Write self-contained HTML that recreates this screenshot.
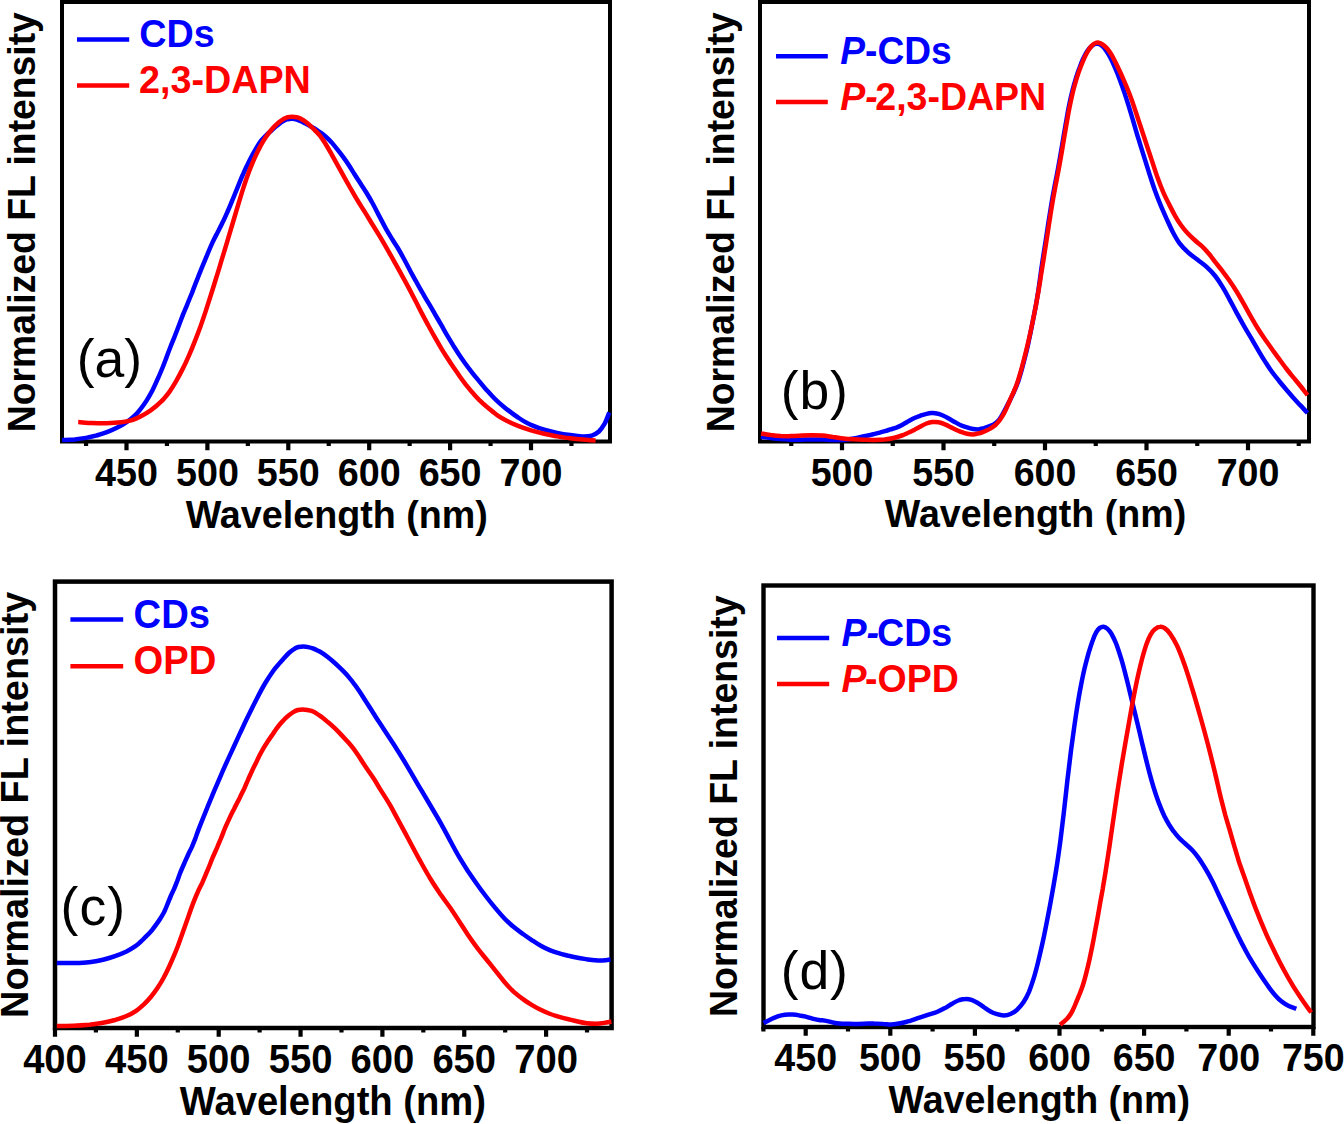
<!DOCTYPE html>
<html><head><meta charset="utf-8"><style>
html,body{margin:0;padding:0;background:#fff;}
body{width:1344px;height:1124px;overflow:hidden;}
svg{display:block;}
text{font-family:"Liberation Sans",sans-serif;}
.b{font-weight:bold;font-size:37.6px;}
.r{font-weight:normal;font-size:53.5px;}
.i{font-style:italic;}
</style></head><body>
<svg width="1344" height="1124" viewBox="0 0 1344 1124">
<rect x="62" y="2" width="548" height="439.5" fill="none" stroke="#000" stroke-width="4"/>
<path d="M86.05,441.50V445.90 M126.50,441.50V450.30 M166.95,441.50V445.90 M207.40,441.50V450.30 M247.85,441.50V445.90 M288.30,441.50V450.30 M328.75,441.50V445.90 M369.20,441.50V450.30 M409.65,441.50V445.90 M450.10,441.50V450.30 M490.55,441.50V445.90 M531.00,441.50V450.30 M571.45,441.50V445.90" stroke="#000" stroke-width="4.2" fill="none"/>
<text transform="translate(126.50,485.6) scale(1,1.04)" text-anchor="middle" class="b" style="font-size:37.7px">450</text>
<text transform="translate(207.40,485.6) scale(1,1.04)" text-anchor="middle" class="b" style="font-size:37.7px">500</text>
<text transform="translate(288.30,485.6) scale(1,1.04)" text-anchor="middle" class="b" style="font-size:37.7px">550</text>
<text transform="translate(369.20,485.6) scale(1,1.04)" text-anchor="middle" class="b" style="font-size:37.7px">600</text>
<text transform="translate(450.10,485.6) scale(1,1.04)" text-anchor="middle" class="b" style="font-size:37.7px">650</text>
<text transform="translate(531.00,485.6) scale(1,1.04)" text-anchor="middle" class="b" style="font-size:37.7px">700</text>
<text transform="translate(336.80,527.6) scale(1,1.04)" text-anchor="middle" class="b" style="font-size:37.7px">Wavelength (nm)</text>
<text transform="translate(35.2,222.15) rotate(-90) scale(1,1.04)" text-anchor="middle" class="b" style="font-size:37.3px">Normalized FL intensity</text>
<path d="M77,39.5H129.2" stroke="#0000ff" stroke-width="4.5" fill="none"/>
<text transform="translate(139.2,47.2) scale(1,1.04)" class="b" fill="#0000ff" style="font-size:37.7px">CDs</text>
<path d="M77,85.6H129.2" stroke="#ff0000" stroke-width="4.5" fill="none"/>
<text transform="translate(139.0,93.3) scale(1,1.04)" class="b" fill="#ff0000" style="font-size:37.7px">2,3-DAPN</text>
<text x="76.8" y="376.7" class="r">(a)</text>
<path d="M62.1,440.0 C64.2,439.9 70.8,439.7 74.8,439.4 C78.8,439.0 82.4,438.5 86.0,437.9 C89.6,437.3 93.0,436.4 96.5,435.5 C100.0,434.5 103.4,433.4 106.9,432.1 C110.4,430.8 114.0,429.2 117.3,427.5 C120.6,425.9 124.1,423.9 126.9,421.9 C129.8,420.0 132.2,418.0 134.4,415.9 C136.7,413.8 138.4,411.8 140.3,409.3 C142.3,406.8 144.4,404.1 146.4,400.9 C148.4,397.7 150.6,393.9 152.5,390.2 C154.4,386.5 156.2,382.4 157.8,378.7 C159.5,375.0 161.0,371.5 162.4,368.0 C163.8,364.5 165.1,361.0 166.4,357.6 C167.7,354.2 168.9,350.8 170.2,347.5 C171.5,344.2 172.8,341.1 174.2,337.6 C175.5,334.2 177.0,330.4 178.4,326.7 C179.8,323.0 181.3,319.1 182.7,315.4 C184.1,311.8 185.6,308.5 187.1,304.8 C188.6,301.0 190.2,297.2 191.9,293.1 C193.5,288.9 195.3,284.1 197.1,279.7 C198.8,275.2 200.7,270.6 202.4,266.3 C204.2,262.1 205.9,258.0 207.5,254.1 C209.1,250.2 210.7,246.4 212.3,242.9 C213.9,239.3 215.7,236.0 217.4,232.7 C219.1,229.4 220.8,226.3 222.4,222.8 C224.1,219.4 225.7,215.7 227.4,212.0 C229.0,208.3 230.7,204.3 232.1,200.8 C233.6,197.2 235.0,194.0 236.2,190.8 C237.5,187.7 238.6,184.8 239.8,181.9 C241.0,178.9 242.2,176.0 243.6,173.0 C244.9,170.0 246.3,167.0 247.8,164.1 C249.2,161.2 250.7,158.2 252.2,155.4 C253.7,152.6 255.2,149.9 256.7,147.4 C258.2,144.9 259.6,142.6 261.1,140.7 C262.6,138.8 264.1,137.3 265.6,135.8 C267.1,134.3 268.5,133.1 270.0,131.8 C271.5,130.5 273.0,129.1 274.5,127.8 C276.0,126.5 277.4,125.2 278.9,124.1 C280.4,123.0 281.9,121.9 283.4,121.1 C284.9,120.3 286.3,119.6 287.8,119.2 C289.3,118.9 290.8,118.7 292.3,118.8 C293.8,118.9 295.2,119.1 296.7,119.6 C298.2,120.0 299.7,120.7 301.2,121.3 C302.7,122.0 304.1,122.8 305.6,123.5 C307.1,124.3 308.6,125.1 310.1,125.9 C311.6,126.7 313.1,127.6 314.8,128.6 C316.4,129.7 318.2,130.8 320.1,132.2 C321.9,133.6 323.9,135.1 325.8,136.8 C327.7,138.5 329.7,140.3 331.6,142.4 C333.5,144.6 335.4,147.0 337.3,149.4 C339.2,151.8 341.2,154.3 343.1,156.9 C345.0,159.5 347.0,162.3 348.9,165.3 C350.8,168.2 352.8,171.5 354.7,174.5 C356.6,177.6 358.6,180.5 360.5,183.5 C362.4,186.5 364.4,189.3 366.3,192.5 C368.2,195.6 370.0,198.6 372.0,202.3 C374.1,206.0 376.3,210.4 378.6,214.9 C381.0,219.3 383.7,224.7 386.0,228.9 C388.4,233.1 390.6,236.6 392.7,240.0 C394.7,243.3 396.5,245.9 398.4,249.0 C400.3,252.2 402.1,255.5 404.0,259.0 C405.9,262.5 407.9,266.4 409.9,270.2 C412.0,274.0 414.1,278.0 416.2,281.7 C418.3,285.4 420.3,289.0 422.4,292.6 C424.5,296.2 426.5,299.7 428.6,303.2 C430.7,306.7 432.7,310.2 434.8,313.8 C436.9,317.4 439.0,321.1 441.1,324.7 C443.2,328.3 445.2,332.1 447.3,335.6 C449.4,339.1 451.5,342.6 453.5,345.9 C455.6,349.2 457.5,352.2 459.5,355.2 C461.5,358.3 463.5,361.0 465.6,364.0 C467.7,366.9 470.1,370.0 472.3,372.8 C474.6,375.7 476.9,378.5 479.1,381.2 C481.3,383.9 483.4,386.4 485.6,388.9 C487.8,391.3 489.9,393.8 492.1,396.0 C494.3,398.3 496.4,400.4 498.6,402.4 C500.8,404.4 502.9,406.1 505.1,407.9 C507.3,409.7 509.4,411.3 511.6,412.9 C513.8,414.6 515.9,416.1 518.1,417.5 C520.3,419.0 522.2,420.2 524.6,421.6 C527.0,423.0 529.5,424.3 532.8,425.6 C536.0,427.0 540.1,428.5 544.2,429.7 C548.2,430.9 552.9,432.0 557.2,432.9 C561.5,433.9 566.0,434.6 570.2,435.1 C574.4,435.7 578.6,436.3 582.2,436.4 C585.8,436.5 588.9,436.4 591.7,435.6 C594.4,434.8 596.7,433.5 598.9,431.5 C601.1,429.4 603.0,426.5 604.8,423.4 C606.5,420.2 608.5,414.2 609.3,412.4" stroke="#0000ff" stroke-width="4.5" fill="none" stroke-linejoin="round" stroke-linecap="butt"/>
<path d="M78.2,422.1 C80.5,422.2 87.1,422.8 91.9,423.0 C96.7,423.2 102.0,423.3 106.9,423.2 C111.8,423.1 117.0,422.8 121.2,422.3 C125.4,421.8 128.8,421.1 132.1,420.1 C135.4,419.1 137.8,418.0 140.9,416.3 C144.0,414.7 147.4,412.7 150.7,410.4 C154.0,408.0 157.7,405.0 160.8,401.9 C164.0,398.9 166.8,395.3 169.4,391.8 C171.9,388.3 174.1,384.7 176.3,380.9 C178.5,377.0 180.6,373.0 182.7,368.9 C184.8,364.7 186.9,360.2 188.8,355.8 C190.8,351.4 192.6,347.1 194.4,342.4 C196.3,337.7 198.2,332.8 200.1,327.6 C201.9,322.3 204.0,316.4 205.8,310.9 C207.6,305.3 209.4,299.7 211.1,294.2 C212.9,288.6 214.6,283.2 216.3,277.5 C218.1,271.9 219.8,266.1 221.6,260.2 C223.4,254.3 225.2,248.3 227.0,242.3 C228.8,236.4 230.5,230.4 232.3,224.5 C234.1,218.5 235.9,212.3 237.7,206.4 C239.5,200.5 241.3,194.3 243.0,189.1 C244.7,183.8 246.2,179.2 247.8,174.9 C249.3,170.7 250.7,167.2 252.2,163.6 C253.7,160.1 255.2,156.7 256.7,153.6 C258.2,150.5 259.6,147.6 261.1,144.9 C262.6,142.3 264.1,139.8 265.6,137.6 C267.1,135.3 268.5,133.3 270.0,131.5 C271.5,129.6 273.0,127.9 274.5,126.4 C276.0,124.9 277.4,123.5 278.9,122.3 C280.4,121.1 281.9,120.0 283.4,119.1 C284.9,118.3 286.3,117.7 287.8,117.2 C289.3,116.8 290.8,116.7 292.3,116.7 C293.8,116.7 295.2,116.9 296.7,117.2 C298.2,117.6 299.7,118.2 301.2,118.9 C302.7,119.7 304.1,120.6 305.6,121.7 C307.1,122.8 308.6,124.2 310.1,125.6 C311.6,127.0 313.1,128.4 314.8,130.1 C316.4,131.8 318.2,133.5 320.1,135.8 C321.9,138.2 323.9,141.1 325.8,144.2 C327.7,147.3 329.7,150.9 331.6,154.3 C333.5,157.7 335.4,161.2 337.3,164.7 C339.2,168.2 341.2,171.6 343.1,175.1 C345.0,178.6 347.0,182.1 348.9,185.5 C350.8,188.9 352.8,192.3 354.7,195.6 C356.6,198.9 358.6,202.0 360.5,205.2 C362.4,208.3 364.4,211.3 366.3,214.4 C368.2,217.5 370.0,220.5 372.0,223.7 C374.0,226.9 376.0,230.1 378.1,233.6 C380.3,237.1 382.6,241.0 384.8,244.8 C386.9,248.5 389.1,252.4 391.2,256.2 C393.3,260.0 395.4,263.7 397.5,267.4 C399.6,271.1 401.6,274.8 403.7,278.6 C405.8,282.4 407.8,286.2 409.9,290.1 C412.0,294.1 414.1,298.2 416.2,302.3 C418.3,306.3 420.3,310.5 422.4,314.4 C424.5,318.4 426.5,322.2 428.6,326.0 C430.7,329.8 432.7,333.5 434.8,337.2 C436.9,340.9 439.0,344.6 441.1,348.1 C443.2,351.6 445.4,355.0 447.5,358.3 C449.6,361.6 451.7,364.7 453.8,367.7 C455.9,370.7 457.8,373.5 459.8,376.4 C461.8,379.2 463.9,382.0 466.0,384.8 C468.2,387.5 470.4,390.3 472.6,392.8 C474.8,395.2 476.9,397.6 479.1,399.8 C481.3,401.9 483.4,403.9 485.6,405.8 C487.8,407.6 489.9,409.4 492.1,411.1 C494.3,412.8 496.2,414.4 498.6,416.1 C501.0,417.7 503.5,419.1 506.7,420.8 C510.0,422.4 514.0,424.2 518.1,425.8 C522.2,427.4 526.8,429.0 531.1,430.4 C535.5,431.7 539.8,432.8 544.2,433.8 C548.5,434.8 552.9,435.6 557.2,436.4 C561.5,437.1 565.9,437.8 570.2,438.3 C574.5,438.9 578.8,439.3 583.1,439.6 C587.3,440.0 593.5,440.3 595.6,440.4" stroke="#ff0000" stroke-width="4.5" fill="none" stroke-linejoin="round" stroke-linecap="butt"/>
<rect x="760" y="2" width="549" height="439.5" fill="none" stroke="#000" stroke-width="4"/>
<path d="M791.25,441.50V445.90 M842.00,441.50V450.30 M892.75,441.50V445.90 M943.50,441.50V450.30 M994.25,441.50V445.90 M1045.00,441.50V450.30 M1095.75,441.50V445.90 M1146.50,441.50V450.30 M1197.25,441.50V445.90 M1248.00,441.50V450.30 M1298.75,441.50V445.90" stroke="#000" stroke-width="4.2" fill="none"/>
<text transform="translate(842.00,485.8) scale(1,1.04)" text-anchor="middle" class="b" style="font-size:37.6px">500</text>
<text transform="translate(943.50,485.8) scale(1,1.04)" text-anchor="middle" class="b" style="font-size:37.6px">550</text>
<text transform="translate(1045.00,485.8) scale(1,1.04)" text-anchor="middle" class="b" style="font-size:37.6px">600</text>
<text transform="translate(1146.50,485.8) scale(1,1.04)" text-anchor="middle" class="b" style="font-size:37.6px">650</text>
<text transform="translate(1248.00,485.8) scale(1,1.04)" text-anchor="middle" class="b" style="font-size:37.6px">700</text>
<text transform="translate(1035.50,527.4) scale(1,1.04)" text-anchor="middle" class="b" style="font-size:37.6px">Wavelength (nm)</text>
<text transform="translate(733.9,222.15) rotate(-90) scale(1,1.04)" text-anchor="middle" class="b" style="font-size:37.3px">Normalized FL intensity</text>
<path d="M776,56.3H827.8" stroke="#0000ff" stroke-width="4.5" fill="none"/>
<text transform="translate(840.3,63.8) scale(1,1.04)" class="b" fill="#0000ff" style="font-size:37.15px"><tspan class="i">P</tspan>-CDs</text>
<path d="M776,101.9H827.8" stroke="#ff0000" stroke-width="4.5" fill="none"/>
<text transform="translate(840.3,109.8) scale(1,1.04)" class="b" fill="#ff0000" style="font-size:37.5px"><tspan class="i">P-</tspan><tspan dx="-2.5">2,3-DAPN</tspan></text>
<text x="780.7" y="408.6" class="r" style="letter-spacing:0.9px">(b)</text>
<path d="M761.0,436.7 C762.6,436.9 767.3,437.7 770.7,438.1 C774.0,438.5 777.4,438.9 780.8,439.1 C784.2,439.4 787.8,439.6 791.2,439.7 C794.7,439.8 798.2,439.7 801.7,439.7 C805.2,439.6 808.6,439.4 812.1,439.4 C815.6,439.4 819.0,439.4 822.5,439.6 C826.0,439.7 829.4,440.0 832.9,440.1 C836.4,440.1 839.8,440.2 843.3,439.9 C846.8,439.7 850.3,439.1 853.8,438.5 C857.2,437.9 860.9,437.0 864.2,436.3 C867.4,435.6 870.7,434.8 873.3,434.2 C875.9,433.6 877.8,433.2 879.8,432.6 C881.8,432.1 883.2,431.6 885.0,431.1 C886.8,430.6 888.5,430.0 890.4,429.4 C892.3,428.8 894.3,428.3 896.3,427.6 C898.3,426.8 900.4,425.8 902.5,424.7 C904.6,423.6 906.7,422.2 908.8,421.0 C910.8,419.9 913.0,418.7 915.0,417.8 C917.0,416.8 919.1,416.1 921.0,415.4 C922.9,414.8 924.7,414.3 926.5,413.9 C928.3,413.5 930.0,413.2 931.7,413.1 C933.4,413.0 935.1,413.1 936.9,413.5 C938.7,413.8 940.4,414.4 942.3,415.2 C944.3,416.0 946.3,417.0 948.3,418.2 C950.4,419.3 952.5,420.8 954.6,421.9 C956.7,423.1 958.7,424.3 960.8,425.2 C962.9,426.1 965.0,426.8 967.1,427.4 C969.1,428.1 971.1,428.7 973.0,429.0 C975.0,429.3 976.7,429.5 978.5,429.4 C980.3,429.2 982.1,428.6 984.0,428.1 C985.9,427.5 987.9,426.8 989.7,426.1 C991.4,425.4 993.1,424.9 994.6,423.9 C996.0,423.0 997.2,421.9 998.4,420.6 C999.5,419.3 1000.5,417.7 1001.5,416.1 C1002.5,414.5 1003.4,412.8 1004.3,411.1 C1005.2,409.4 1006.1,407.6 1007.0,405.9 C1007.9,404.2 1008.8,402.5 1009.7,400.8 C1010.5,399.2 1011.3,397.6 1012.1,395.9 C1012.9,394.2 1013.7,392.5 1014.4,390.8 C1015.2,389.1 1015.9,387.6 1016.6,385.8 C1017.3,383.9 1017.9,382.3 1018.8,379.7 C1019.6,377.0 1020.6,373.6 1021.7,369.8 C1022.7,366.1 1024.0,361.5 1025.0,357.3 C1026.1,353.1 1027.1,348.8 1028.0,344.7 C1028.9,340.6 1029.7,336.6 1030.6,332.4 C1031.4,328.2 1032.2,324.0 1033.1,319.6 C1034.0,315.2 1034.9,310.7 1035.8,306.0 C1036.6,301.3 1037.4,296.6 1038.2,291.5 C1039.0,286.3 1039.7,280.9 1040.5,275.3 C1041.2,269.7 1042.1,263.7 1043.0,257.8 C1043.9,251.9 1044.9,245.9 1045.8,240.0 C1046.7,234.1 1047.6,228.1 1048.5,222.2 C1049.4,216.4 1050.4,210.3 1051.3,204.7 C1052.2,199.2 1053.1,194.0 1054.1,189.0 C1055.0,184.0 1055.9,179.7 1056.9,174.6 C1057.9,169.4 1058.9,164.0 1059.9,158.2 C1060.9,152.4 1062.0,145.9 1063.0,139.8 C1064.1,133.6 1065.1,127.2 1066.2,121.3 C1067.2,115.5 1068.2,109.7 1069.3,104.5 C1070.4,99.3 1071.4,94.7 1072.6,90.2 C1073.7,85.7 1074.9,81.6 1076.1,77.7 C1077.3,73.8 1078.6,70.1 1079.9,66.8 C1081.1,63.5 1082.3,60.5 1083.6,57.8 C1085.0,55.1 1086.3,52.5 1087.8,50.4 C1089.4,48.3 1091.2,46.3 1092.8,45.2 C1094.4,44.1 1096.0,43.6 1097.5,43.6 C1098.9,43.7 1100.2,44.4 1101.6,45.5 C1103.0,46.6 1104.4,48.1 1105.8,50.2 C1107.3,52.2 1108.9,55.0 1110.5,58.0 C1112.1,61.0 1113.7,64.7 1115.3,68.4 C1116.9,72.1 1118.5,76.1 1120.1,80.4 C1121.7,84.7 1123.3,89.3 1124.9,94.1 C1126.5,98.9 1128.1,104.2 1129.7,109.3 C1131.3,114.4 1132.8,119.8 1134.3,124.9 C1135.8,130.0 1137.1,134.7 1138.8,139.9 C1140.4,145.2 1142.1,150.7 1144.0,156.6 C1145.8,162.5 1148.0,169.3 1149.8,175.2 C1151.7,181.0 1153.5,186.6 1155.3,191.6 C1157.1,196.6 1158.7,200.6 1160.6,205.1 C1162.5,209.6 1164.5,214.1 1166.5,218.6 C1168.6,223.1 1170.7,228.0 1172.9,232.2 C1175.1,236.3 1177.1,240.0 1179.6,243.4 C1182.1,246.7 1184.9,249.5 1187.8,252.2 C1190.8,255.0 1194.4,257.3 1197.6,259.8 C1200.8,262.4 1204.2,264.7 1207.1,267.4 C1210.1,270.1 1212.7,272.9 1215.2,276.0 C1217.7,279.2 1219.9,282.5 1222.2,286.3 C1224.6,290.1 1226.9,294.4 1229.2,298.8 C1231.6,303.1 1234.0,307.9 1236.4,312.3 C1238.8,316.7 1241.1,321.0 1243.5,325.1 C1245.9,329.3 1248.2,333.2 1250.6,337.2 C1253.0,341.3 1255.3,345.4 1257.7,349.4 C1260.1,353.3 1262.4,357.4 1264.8,361.1 C1267.2,364.8 1269.5,368.5 1271.9,371.8 C1274.3,375.1 1276.7,378.0 1279.1,381.0 C1281.5,384.0 1283.8,386.7 1286.2,389.5 C1288.6,392.3 1290.9,395.1 1293.3,397.7 C1295.7,400.4 1298.0,402.8 1300.4,405.4 C1302.8,407.9 1306.3,411.7 1307.5,413.0" stroke="#0000ff" stroke-width="4.5" fill="none" stroke-linejoin="round" stroke-linecap="butt"/>
<path d="M761.0,433.5 C762.6,433.7 767.3,434.5 770.7,435.0 C774.0,435.4 777.4,435.8 780.8,436.0 C784.2,436.1 787.8,436.2 791.2,436.1 C794.7,436.1 798.2,435.8 801.7,435.6 C805.2,435.4 808.6,435.2 812.1,435.2 C815.6,435.2 819.0,435.3 822.5,435.6 C826.0,435.9 829.4,436.6 832.9,437.1 C836.4,437.5 839.8,438.1 843.3,438.5 C846.8,438.9 850.3,439.1 853.8,439.3 C857.2,439.5 860.7,439.6 864.2,439.7 C867.7,439.8 871.2,440.0 874.6,439.9 C878.0,439.9 881.3,439.9 884.5,439.6 C887.6,439.2 890.6,438.7 893.5,438.0 C896.4,437.3 899.2,436.4 901.8,435.5 C904.3,434.6 906.5,433.5 908.8,432.5 C911.0,431.5 913.0,430.4 915.0,429.4 C917.0,428.3 919.1,427.2 921.0,426.2 C922.9,425.3 924.6,424.2 926.5,423.5 C928.4,422.8 930.2,422.2 932.2,422.0 C934.3,421.8 936.5,421.8 938.7,422.3 C940.9,422.7 943.1,423.6 945.5,424.6 C947.8,425.6 950.3,427.0 952.8,428.2 C955.2,429.4 957.9,430.7 960.3,431.6 C962.7,432.5 964.9,433.4 967.1,433.8 C969.2,434.3 971.2,434.5 973.3,434.5 C975.4,434.4 977.5,433.8 979.6,433.2 C981.6,432.7 983.7,431.8 985.5,431.0 C987.4,430.2 989.1,429.3 990.7,428.4 C992.3,427.4 993.8,426.4 995.1,425.3 C996.4,424.1 997.6,422.8 998.8,421.4 C999.9,420.0 1000.9,418.5 1001.9,416.9 C1002.9,415.3 1003.8,413.6 1004.7,411.9 C1005.6,410.2 1006.4,408.3 1007.2,406.5 C1008.0,404.7 1008.8,402.8 1009.6,401.0 C1010.3,399.3 1011.0,397.6 1011.8,395.9 C1012.6,394.2 1013.4,392.5 1014.1,390.8 C1014.9,389.1 1015.6,387.6 1016.2,385.8 C1016.9,383.9 1017.5,382.3 1018.3,379.7 C1019.1,377.0 1020.1,373.6 1021.2,369.8 C1022.2,366.1 1023.5,361.5 1024.5,357.3 C1025.6,353.1 1026.6,348.8 1027.6,344.7 C1028.6,340.6 1029.5,336.6 1030.4,332.4 C1031.3,328.2 1032.2,324.0 1033.1,319.6 C1034.0,315.2 1034.9,310.7 1035.8,306.0 C1036.7,301.3 1037.5,296.6 1038.4,291.5 C1039.3,286.3 1040.2,280.9 1041.0,275.3 C1041.9,269.7 1042.9,263.7 1043.8,257.8 C1044.7,251.9 1045.7,245.9 1046.6,240.0 C1047.5,234.1 1048.4,228.1 1049.3,222.2 C1050.2,216.4 1051.2,210.3 1052.1,204.7 C1053.0,199.2 1053.9,194.0 1054.9,189.0 C1055.8,184.0 1056.7,179.7 1057.7,174.6 C1058.7,169.4 1059.7,164.0 1060.7,158.2 C1061.7,152.4 1062.8,145.9 1063.8,139.8 C1064.9,133.6 1065.9,127.2 1067.0,121.3 C1068.0,115.5 1069.0,109.7 1070.1,104.5 C1071.2,99.3 1072.2,94.7 1073.3,90.2 C1074.5,85.7 1075.7,81.6 1076.9,77.7 C1078.1,73.8 1079.4,70.1 1080.7,66.8 C1081.9,63.5 1083.2,60.5 1084.4,57.8 C1085.7,55.1 1086.9,52.7 1088.2,50.6 C1089.4,48.6 1090.7,46.9 1091.9,45.6 C1093.1,44.4 1094.3,43.5 1095.5,43.0 C1096.6,42.5 1097.7,42.4 1098.9,42.7 C1100.1,42.9 1101.4,43.6 1102.8,44.6 C1104.1,45.5 1105.7,46.8 1107.1,48.4 C1108.5,50.0 1109.9,52.1 1111.3,54.4 C1112.7,56.7 1114.0,59.5 1115.5,62.4 C1117.0,65.3 1118.5,68.6 1120.1,72.0 C1121.7,75.4 1123.3,79.2 1124.9,82.9 C1126.5,86.6 1128.1,90.3 1129.6,94.3 C1131.1,98.2 1132.5,102.0 1134.0,106.6 C1135.6,111.2 1137.1,116.1 1139.0,121.8 C1140.9,127.4 1143.1,134.1 1145.2,140.5 C1147.3,147.0 1149.7,154.1 1151.8,160.4 C1153.9,166.6 1155.8,172.8 1157.7,178.1 C1159.6,183.4 1161.3,187.8 1163.2,192.1 C1165.0,196.3 1166.9,200.0 1168.9,203.9 C1170.8,207.8 1172.8,211.8 1174.8,215.3 C1176.8,218.8 1178.8,222.1 1180.9,225.0 C1183.0,227.9 1185.1,230.5 1187.4,233.0 C1189.7,235.5 1192.2,237.8 1194.6,240.0 C1197.0,242.2 1199.7,244.1 1202.1,246.3 C1204.5,248.6 1206.7,251.1 1208.9,253.7 C1211.1,256.4 1213.1,259.3 1215.3,262.1 C1217.5,265.0 1219.8,267.7 1222.1,270.7 C1224.4,273.7 1226.8,276.8 1229.2,280.3 C1231.6,283.7 1234.0,287.4 1236.4,291.3 C1238.8,295.2 1241.1,299.2 1243.5,303.4 C1245.9,307.5 1248.2,312.0 1250.6,316.2 C1253.0,320.4 1255.3,324.5 1257.7,328.3 C1260.1,332.1 1262.4,335.6 1264.8,339.0 C1267.2,342.4 1269.5,345.7 1271.9,349.0 C1274.3,352.3 1276.7,355.7 1279.1,358.9 C1281.5,362.2 1283.8,365.4 1286.2,368.5 C1288.6,371.6 1290.9,374.5 1293.3,377.4 C1295.7,380.3 1298.0,383.0 1300.4,386.0 C1302.8,388.9 1306.3,393.7 1307.5,395.2" stroke="#ff0000" stroke-width="4.5" fill="none" stroke-linejoin="round" stroke-linecap="butt"/>
<rect x="55" y="581.6" width="556.6" height="446.4" fill="none" stroke="#000" stroke-width="4.5"/>
<path d="M55.00,1028.00V1036.80 M95.92,1028.00V1032.40 M136.85,1028.00V1036.80 M177.78,1028.00V1032.40 M218.70,1028.00V1036.80 M259.62,1028.00V1032.40 M300.55,1028.00V1036.80 M341.48,1028.00V1032.40 M382.40,1028.00V1036.80 M423.32,1028.00V1032.40 M464.25,1028.00V1036.80 M505.18,1028.00V1032.40 M546.10,1028.00V1036.80 M587.02,1028.00V1032.40" stroke="#000" stroke-width="4.2" fill="none"/>
<text transform="translate(55.00,1072.5) scale(1,1.04)" text-anchor="middle" class="b" style="font-size:38.2px">400</text>
<text transform="translate(136.85,1072.5) scale(1,1.04)" text-anchor="middle" class="b" style="font-size:38.2px">450</text>
<text transform="translate(218.70,1072.5) scale(1,1.04)" text-anchor="middle" class="b" style="font-size:38.2px">500</text>
<text transform="translate(300.55,1072.5) scale(1,1.04)" text-anchor="middle" class="b" style="font-size:38.2px">550</text>
<text transform="translate(382.40,1072.5) scale(1,1.04)" text-anchor="middle" class="b" style="font-size:38.2px">600</text>
<text transform="translate(464.25,1072.5) scale(1,1.04)" text-anchor="middle" class="b" style="font-size:38.2px">650</text>
<text transform="translate(546.10,1072.5) scale(1,1.04)" text-anchor="middle" class="b" style="font-size:38.2px">700</text>
<text transform="translate(332.90,1115) scale(1,1.04)" text-anchor="middle" class="b" style="font-size:38.2px">Wavelength (nm)</text>
<text transform="translate(28,804.86) rotate(-90) scale(1,1.04)" text-anchor="middle" class="b" style="font-size:37.85px">Normalized FL intensity</text>
<path d="M70.4,619.4H123.2" stroke="#0000ff" stroke-width="4.5" fill="none"/>
<text transform="translate(133.6,628) scale(1,1.04)" class="b" fill="#0000ff" style="font-size:38.2px">CDs</text>
<path d="M70.4,666.3H123.2" stroke="#ff0000" stroke-width="4.5" fill="none"/>
<text transform="translate(133.6,674) scale(1,1.04)" class="b" fill="#ff0000" style="font-size:38.2px">OPD</text>
<text x="60.6" y="924.6" class="r" style="letter-spacing:1.0px">(c)</text>
<path d="M56.8,963.1 C58.6,963.1 63.8,963.1 67.5,963.1 C71.2,963.1 75.1,963.1 79.0,963.0 C82.9,962.8 87.0,962.6 91.0,962.0 C95.0,961.5 99.0,960.8 103.0,959.8 C107.0,958.8 111.1,957.6 115.0,956.2 C118.9,954.8 123.1,953.1 126.5,951.5 C129.9,949.8 132.9,947.9 135.4,946.2 C137.8,944.5 139.4,942.8 141.2,941.2 C142.9,939.5 144.4,938.1 146.1,936.4 C147.8,934.7 149.8,932.8 151.5,930.8 C153.2,928.7 154.8,926.5 156.3,924.4 C157.9,922.3 159.2,920.4 160.5,918.3 C161.8,916.2 163.1,914.2 164.2,911.9 C165.4,909.6 166.3,906.9 167.4,904.3 C168.5,901.8 169.5,899.1 170.6,896.5 C171.6,894.0 172.9,891.7 174.0,889.2 C175.1,886.6 176.1,883.9 177.2,881.1 C178.2,878.3 179.2,875.4 180.3,872.5 C181.5,869.7 182.7,866.9 184.0,864.0 C185.3,861.1 186.6,858.0 187.9,855.2 C189.2,852.4 190.6,849.7 191.8,847.1 C192.9,844.5 193.7,842.7 194.9,839.7 C196.0,836.7 196.9,833.7 198.7,829.1 C200.5,824.5 203.0,818.2 205.6,811.9 C208.1,805.5 211.3,798.0 214.1,791.2 C216.9,784.5 219.8,777.7 222.6,771.3 C225.5,764.8 228.3,758.6 231.2,752.4 C234.0,746.2 236.9,740.0 239.7,733.9 C242.6,727.8 245.4,721.6 248.3,715.8 C251.1,709.9 254.0,704.1 256.8,698.7 C259.6,693.2 262.5,687.7 265.3,683.0 C268.1,678.3 271.1,673.9 273.5,670.5 C275.9,667.1 278.2,664.9 280.0,662.7 C281.9,660.5 283.2,659.1 284.6,657.5 C286.1,655.8 287.4,654.4 288.9,653.0 C290.4,651.6 292.0,650.3 293.6,649.3 C295.1,648.3 296.8,647.5 298.5,647.0 C300.1,646.6 301.7,646.6 303.4,646.6 C305.0,646.6 306.7,646.8 308.2,647.1 C309.8,647.4 311.4,647.8 312.9,648.4 C314.5,649.0 316.0,649.7 317.6,650.6 C319.2,651.4 321.0,652.3 322.7,653.4 C324.4,654.5 326.2,655.9 328.0,657.3 C329.8,658.7 331.6,660.2 333.4,661.8 C335.2,663.3 336.9,664.9 338.7,666.6 C340.5,668.3 342.3,670.0 344.1,671.9 C345.9,673.7 347.6,675.7 349.4,677.9 C351.2,680.0 353.0,682.3 354.7,684.7 C356.5,687.0 358.2,689.6 359.9,692.0 C361.5,694.4 363.0,696.9 364.5,699.3 C366.0,701.7 367.5,703.8 369.0,706.2 C370.5,708.6 372.0,710.9 373.6,713.6 C375.3,716.2 376.9,718.8 379.1,722.1 C381.3,725.4 383.6,729.0 386.6,733.5 C389.5,738.0 393.2,743.5 396.8,749.2 C400.4,755.0 404.4,761.4 408.2,767.8 C412.0,774.1 415.8,780.8 419.6,787.3 C423.4,793.8 427.3,800.3 431.0,806.5 C434.6,812.7 438.2,818.6 441.4,824.4 C444.6,830.1 447.4,835.6 450.4,841.1 C453.3,846.5 456.1,851.8 459.1,856.9 C462.1,862.0 465.2,866.8 468.2,871.5 C471.3,876.1 474.3,880.4 477.4,884.7 C480.4,889.0 483.5,893.1 486.5,897.0 C489.5,901.0 492.6,904.8 495.6,908.4 C498.6,912.0 501.7,915.6 504.7,918.7 C507.7,921.8 510.8,924.6 513.8,927.1 C516.9,929.7 519.9,931.8 523.0,934.0 C526.0,936.2 529.1,938.3 532.1,940.3 C535.1,942.3 538.2,944.4 541.2,946.0 C544.2,947.7 547.3,949.1 550.3,950.3 C553.3,951.5 556.4,952.5 559.4,953.4 C562.4,954.3 565.5,955.0 568.5,955.8 C571.6,956.5 574.6,957.1 577.7,957.7 C580.7,958.3 583.9,958.8 586.8,959.3 C589.7,959.7 592.4,960.1 595.0,960.3 C597.6,960.5 599.7,960.6 602.3,960.5 C604.9,960.3 609.1,959.7 610.5,959.5" stroke="#0000ff" stroke-width="4.5" fill="none" stroke-linejoin="round" stroke-linecap="butt"/>
<path d="M56.8,1026.1 C59.6,1026.0 68.0,1026.0 73.5,1025.8 C78.9,1025.6 84.6,1025.2 89.5,1024.8 C94.4,1024.2 98.7,1023.6 103.0,1022.8 C107.3,1022.0 111.1,1021.1 115.0,1020.0 C118.9,1018.8 123.0,1017.6 126.5,1016.0 C130.0,1014.5 133.2,1012.8 136.1,1010.8 C139.0,1008.8 141.4,1006.6 143.9,1004.3 C146.4,1002.0 148.6,999.6 150.8,997.0 C153.0,994.4 155.1,991.6 157.1,988.6 C159.1,985.5 161.1,982.4 163.1,978.7 C165.1,975.0 167.3,970.6 169.1,966.7 C170.9,962.8 172.7,958.8 174.1,955.4 C175.6,951.9 176.5,949.6 177.9,946.0 C179.3,942.4 180.7,938.2 182.3,933.7 C184.0,929.1 185.9,923.5 187.7,918.5 C189.4,913.6 191.1,908.5 192.8,904.1 C194.5,899.7 196.0,895.9 197.7,892.2 C199.3,888.5 200.8,885.8 202.5,882.2 C204.1,878.6 205.7,874.7 207.4,870.7 C209.1,866.7 210.8,862.1 212.4,858.2 C214.0,854.4 215.6,851.0 217.1,847.6 C218.5,844.2 219.8,841.3 221.1,838.0 C222.5,834.7 223.7,831.1 225.2,827.7 C226.7,824.3 228.3,820.8 229.9,817.4 C231.5,814.0 233.2,810.7 234.8,807.4 C236.5,804.1 238.2,800.8 239.8,797.7 C241.3,794.5 242.8,791.6 244.2,788.6 C245.5,785.6 246.7,782.7 248.0,779.8 C249.2,776.9 250.6,774.0 251.9,771.2 C253.2,768.3 254.6,765.6 255.9,763.0 C257.2,760.3 258.4,757.7 259.6,755.3 C260.9,752.8 262.1,750.5 263.4,748.3 C264.7,746.1 266.0,744.0 267.4,741.9 C268.7,739.9 270.2,737.9 271.6,735.9 C272.9,733.9 274.2,731.9 275.5,730.1 C276.8,728.2 278.1,726.4 279.5,724.7 C280.9,723.0 282.4,721.3 283.9,719.8 C285.4,718.2 287.0,716.8 288.6,715.5 C290.2,714.2 291.7,713.0 293.3,712.1 C294.8,711.2 296.4,710.5 297.9,710.0 C299.5,709.6 301.0,709.5 302.6,709.5 C304.2,709.5 305.8,709.7 307.3,710.0 C308.8,710.3 310.3,710.5 311.9,711.0 C313.4,711.6 314.8,712.3 316.4,713.3 C318.0,714.3 319.8,715.7 321.7,717.1 C323.6,718.6 325.7,720.3 327.8,722.1 C329.9,723.8 332.1,725.7 334.2,727.7 C336.3,729.7 338.5,731.9 340.6,734.1 C342.7,736.3 344.9,738.7 347.0,741.0 C349.1,743.4 351.2,745.7 353.1,748.2 C355.1,750.8 356.9,753.5 358.8,756.2 C360.6,758.9 362.3,761.9 364.1,764.5 C365.9,767.2 367.6,769.7 369.4,772.3 C371.2,774.9 373.0,777.5 374.8,780.2 C376.6,783.0 378.3,786.2 380.1,789.1 C381.9,791.9 383.8,794.9 385.5,797.6 C387.2,800.4 388.5,802.3 390.4,805.7 C392.3,809.0 394.1,812.5 397.0,817.8 C399.9,823.1 403.9,830.5 407.6,837.5 C411.4,844.6 415.7,852.8 419.6,859.9 C423.5,866.9 427.3,873.8 431.0,879.8 C434.6,885.8 438.2,890.9 441.4,895.6 C444.6,900.3 447.4,903.7 450.4,908.0 C453.3,912.3 456.1,916.6 459.1,921.2 C462.1,925.8 465.2,930.8 468.2,935.3 C471.3,939.8 474.3,944.1 477.4,948.1 C480.4,952.1 483.5,955.7 486.5,959.5 C489.5,963.3 492.6,967.1 495.6,970.9 C498.6,974.7 501.7,978.8 504.7,982.3 C507.7,985.8 510.8,989.0 513.8,991.9 C516.9,994.7 519.9,996.9 523.0,999.1 C526.0,1001.4 529.1,1003.3 532.1,1005.1 C535.1,1006.9 538.2,1008.6 541.2,1010.1 C544.2,1011.6 547.3,1012.9 550.3,1014.0 C553.3,1015.1 556.4,1015.9 559.4,1016.8 C562.4,1017.7 565.5,1018.5 568.5,1019.2 C571.6,1020.0 574.6,1020.8 577.7,1021.5 C580.7,1022.2 583.8,1022.9 586.8,1023.3 C589.8,1023.7 593.0,1023.8 595.9,1023.8 C598.8,1023.7 601.7,1023.3 604.3,1022.9 C606.9,1022.5 610.2,1021.7 611.4,1021.5" stroke="#ff0000" stroke-width="4.5" fill="none" stroke-linejoin="round" stroke-linecap="butt"/>
<rect x="763.5" y="585.5" width="550.0" height="441.5" fill="none" stroke="#000" stroke-width="4.4"/>
<path d="M763.40,1027.00V1031.40 M805.70,1027.00V1035.80 M848.00,1027.00V1031.40 M890.30,1027.00V1035.80 M932.60,1027.00V1031.40 M974.90,1027.00V1035.80 M1017.20,1027.00V1031.40 M1059.50,1027.00V1035.80 M1101.80,1027.00V1031.40 M1144.10,1027.00V1035.80 M1186.40,1027.00V1031.40 M1228.70,1027.00V1035.80 M1271.00,1027.00V1031.40 M1313.30,1027.00V1035.80" stroke="#000" stroke-width="4.2" fill="none"/>
<text transform="translate(805.70,1070.5) scale(1,1.04)" text-anchor="middle" class="b" style="font-size:37.6px">450</text>
<text transform="translate(890.30,1070.5) scale(1,1.04)" text-anchor="middle" class="b" style="font-size:37.6px">500</text>
<text transform="translate(974.90,1070.5) scale(1,1.04)" text-anchor="middle" class="b" style="font-size:37.6px">550</text>
<text transform="translate(1059.50,1070.5) scale(1,1.04)" text-anchor="middle" class="b" style="font-size:37.6px">600</text>
<text transform="translate(1144.10,1070.5) scale(1,1.04)" text-anchor="middle" class="b" style="font-size:37.6px">650</text>
<text transform="translate(1228.70,1070.5) scale(1,1.04)" text-anchor="middle" class="b" style="font-size:37.6px">700</text>
<text transform="translate(1313.30,1070.5) scale(1,1.04)" text-anchor="middle" class="b" style="font-size:37.6px">750</text>
<text transform="translate(1039.30,1112.9) scale(1,1.04)" text-anchor="middle" class="b" style="font-size:37.6px">Wavelength (nm)</text>
<text transform="translate(736.8,806.20) rotate(-90) scale(1,1.04)" text-anchor="middle" class="b" style="font-size:37.45px">Normalized FL intensity</text>
<path d="M777,638H829.2" stroke="#0000ff" stroke-width="4.5" fill="none"/>
<text transform="translate(841.5,645.9) scale(1,1.04)" class="b" fill="#0000ff" style="font-size:37.6px"><tspan class="i">P-</tspan><tspan dx="-2">CDs</tspan></text>
<path d="M777,684H829.2" stroke="#ff0000" stroke-width="4.5" fill="none"/>
<text transform="translate(841.5,692) scale(1,1.04)" class="b" fill="#ff0000" style="font-size:37.5px"><tspan class="i">P</tspan><tspan dx="-1.5">-OPD</tspan></text>
<text x="780.7" y="989" class="r" style="letter-spacing:0.9px">(d)</text>
<path d="M763.6,1022.9 C764.8,1022.3 768.2,1020.6 770.5,1019.5 C772.9,1018.4 775.3,1017.2 777.7,1016.4 C780.1,1015.6 782.6,1015.0 785.0,1014.7 C787.4,1014.4 789.9,1014.5 792.3,1014.6 C794.7,1014.7 797.1,1015.0 799.3,1015.4 C801.6,1015.7 803.7,1016.1 805.8,1016.6 C808.0,1017.2 810.2,1018.0 812.4,1018.6 C814.5,1019.2 816.8,1019.7 818.9,1020.0 C821.0,1020.4 822.9,1020.3 824.8,1020.6 C826.8,1020.9 828.8,1021.4 830.8,1021.9 C832.9,1022.4 834.8,1023.0 837.1,1023.3 C839.3,1023.6 841.6,1023.6 844.4,1023.7 C847.1,1023.8 850.5,1023.8 853.8,1023.9 C857.0,1023.9 860.5,1023.8 863.9,1023.7 C867.3,1023.7 870.8,1023.4 874.0,1023.5 C877.3,1023.5 880.5,1023.8 883.4,1024.0 C886.3,1024.1 888.6,1024.5 891.4,1024.4 C894.3,1024.3 897.3,1023.9 900.4,1023.3 C903.5,1022.7 906.9,1021.7 910.1,1020.8 C913.3,1019.8 916.4,1018.6 919.5,1017.6 C922.5,1016.6 925.6,1015.6 928.5,1014.7 C931.4,1013.8 934.1,1013.2 936.9,1012.0 C939.6,1010.9 942.3,1009.5 944.9,1008.1 C947.5,1006.6 950.1,1004.7 952.6,1003.4 C955.0,1002.0 957.3,1000.8 959.5,1000.0 C961.6,999.3 963.7,998.9 965.7,998.9 C967.7,998.8 969.6,999.2 971.5,999.8 C973.5,1000.5 975.3,1001.5 977.4,1002.7 C979.4,1003.9 981.5,1005.6 983.7,1007.0 C985.9,1008.5 988.2,1010.2 990.4,1011.4 C992.6,1012.6 994.9,1013.5 997.1,1014.2 C999.3,1014.9 1001.6,1015.4 1003.8,1015.4 C1006.0,1015.4 1008.3,1015.0 1010.5,1014.0 C1012.7,1013.1 1015.0,1011.6 1017.2,1009.6 C1019.4,1007.5 1021.6,1005.0 1023.6,1002.0 C1025.5,999.1 1027.3,995.6 1029.0,991.8 C1030.6,987.9 1032.0,983.7 1033.5,978.9 C1035.0,974.2 1036.4,968.8 1037.8,963.2 C1039.2,957.6 1040.6,951.5 1042.0,945.3 C1043.4,939.1 1044.7,932.8 1046.0,926.1 C1047.3,919.4 1048.7,912.3 1050.0,905.3 C1051.3,898.3 1052.6,891.1 1053.8,884.1 C1055.0,877.1 1056.1,870.5 1057.2,863.3 C1058.3,856.1 1059.3,849.2 1060.4,840.8 C1061.5,832.4 1062.6,822.8 1063.8,812.7 C1065.0,802.6 1066.2,790.5 1067.4,780.2 C1068.6,769.9 1069.8,759.7 1071.0,750.6 C1072.2,741.6 1073.3,733.5 1074.4,725.7 C1075.5,717.9 1076.6,710.6 1077.7,703.8 C1078.8,696.9 1079.9,690.7 1081.1,684.7 C1082.3,678.7 1083.4,673.2 1084.7,667.8 C1086.0,662.5 1087.4,657.2 1088.7,652.6 C1090.1,648.0 1091.5,643.6 1092.8,640.2 C1094.0,636.8 1095.1,634.2 1096.3,632.1 C1097.5,630.0 1098.6,628.8 1099.8,627.9 C1101.0,627.0 1102.3,626.6 1103.5,626.7 C1104.8,626.8 1106.0,627.5 1107.3,628.7 C1108.6,629.9 1110.0,631.3 1111.5,633.9 C1112.9,636.5 1114.6,639.8 1116.3,644.0 C1117.9,648.3 1119.7,653.9 1121.4,659.4 C1123.1,664.9 1124.7,671.3 1126.2,677.3 C1127.8,683.3 1129.2,689.4 1130.6,695.2 C1132.0,701.0 1133.3,706.5 1134.7,712.1 C1136.1,717.7 1137.4,723.3 1138.8,729.0 C1140.2,734.7 1141.5,740.7 1142.9,746.4 C1144.3,752.1 1145.6,757.7 1147.0,763.2 C1148.4,768.8 1149.8,774.2 1151.3,779.6 C1152.8,785.0 1154.6,790.7 1156.2,795.5 C1157.8,800.3 1159.5,804.8 1161.0,808.4 C1162.4,812.0 1163.7,814.6 1165.0,817.3 C1166.3,820.0 1167.6,822.2 1169.0,824.5 C1170.5,826.8 1171.9,829.2 1173.6,831.3 C1175.2,833.5 1176.8,835.5 1178.7,837.5 C1180.6,839.6 1182.8,841.4 1185.1,843.5 C1187.3,845.5 1189.9,847.6 1192.1,850.0 C1194.3,852.3 1196.4,855.0 1198.3,857.6 C1200.2,860.2 1201.9,862.9 1203.6,865.7 C1205.3,868.5 1206.9,871.1 1208.6,874.1 C1210.3,877.1 1211.9,880.4 1213.6,883.8 C1215.3,887.2 1216.9,890.9 1218.6,894.4 C1220.3,897.9 1221.9,901.5 1223.6,905.0 C1225.2,908.5 1226.9,912.1 1228.5,915.6 C1230.2,919.1 1231.9,922.7 1233.5,926.2 C1235.1,929.7 1236.7,933.0 1238.4,936.4 C1240.1,939.9 1241.6,943.1 1243.7,946.9 C1245.7,950.7 1247.9,954.9 1250.5,959.2 C1253.0,963.5 1256.2,968.5 1259.0,972.8 C1261.8,977.1 1264.9,981.6 1267.5,985.3 C1270.2,989.0 1272.5,992.2 1274.9,994.9 C1277.3,997.6 1279.4,999.8 1281.7,1001.6 C1284.0,1003.5 1286.3,1004.8 1288.8,1006.0 C1291.2,1007.1 1295.1,1008.2 1296.4,1008.7" stroke="#0000ff" stroke-width="4.5" fill="none" stroke-linejoin="round" stroke-linecap="butt"/>
<path d="M1060.0,1024.7 C1060.6,1024.2 1062.6,1022.7 1063.8,1021.7 C1065.0,1020.7 1066.2,1019.6 1067.3,1018.5 C1068.3,1017.3 1069.2,1016.2 1070.1,1014.9 C1071.0,1013.6 1071.8,1012.2 1072.6,1010.5 C1073.4,1008.8 1074.3,1006.9 1075.1,1005.0 C1075.9,1003.0 1076.8,1000.8 1077.6,998.8 C1078.4,996.8 1079.2,995.1 1080.0,993.0 C1080.9,990.8 1081.7,988.9 1082.7,985.8 C1083.7,982.6 1084.9,978.5 1086.0,974.1 C1087.1,969.7 1088.4,964.3 1089.5,959.4 C1090.6,954.5 1091.6,949.4 1092.6,944.5 C1093.6,939.6 1094.4,934.8 1095.3,930.0 C1096.2,925.3 1097.1,920.6 1097.9,916.0 C1098.7,911.5 1099.4,907.2 1100.2,902.7 C1101.0,898.2 1101.8,894.2 1102.7,889.1 C1103.5,883.9 1104.5,878.5 1105.6,871.6 C1106.7,864.8 1107.9,856.6 1109.2,848.1 C1110.5,839.5 1111.8,829.8 1113.2,820.5 C1114.6,811.2 1115.9,801.4 1117.3,792.4 C1118.7,783.4 1120.0,774.7 1121.4,766.3 C1122.8,758.0 1124.1,750.1 1125.5,742.3 C1126.9,734.4 1128.2,726.8 1129.6,719.2 C1130.9,711.7 1132.2,704.5 1133.6,697.2 C1135.0,690.0 1136.5,682.5 1138.0,675.8 C1139.5,669.0 1141.2,662.2 1142.6,656.8 C1144.1,651.5 1145.4,647.2 1146.7,643.5 C1148.0,639.9 1149.1,637.2 1150.5,634.8 C1151.9,632.4 1153.5,630.4 1155.1,629.1 C1156.7,627.7 1158.4,626.8 1160.0,626.7 C1161.5,626.5 1162.9,626.8 1164.5,628.0 C1166.2,629.1 1167.9,630.7 1170.0,633.6 C1172.1,636.6 1174.6,640.5 1177.1,645.8 C1179.5,651.1 1182.2,658.1 1184.8,665.5 C1187.4,672.8 1190.0,681.5 1192.6,690.0 C1195.2,698.5 1197.7,707.3 1200.3,716.5 C1202.9,725.6 1205.5,735.3 1208.0,744.8 C1210.5,754.3 1213.1,764.9 1215.2,773.6 C1217.3,782.3 1219.0,790.5 1220.7,797.3 C1222.4,804.1 1223.7,809.1 1225.1,814.5 C1226.6,819.8 1228.1,824.5 1229.5,829.4 C1230.9,834.2 1232.3,839.0 1233.5,843.3 C1234.8,847.6 1235.9,851.6 1237.0,855.2 C1238.1,858.8 1238.8,861.3 1240.0,864.8 C1241.2,868.3 1242.3,871.4 1244.0,876.1 C1245.6,880.8 1247.7,886.7 1249.9,892.9 C1252.1,899.0 1254.6,906.0 1257.3,912.7 C1259.9,919.4 1262.9,926.5 1265.8,933.1 C1268.7,939.8 1271.9,946.3 1274.9,952.4 C1277.9,958.6 1280.9,964.4 1283.9,970.0 C1286.9,975.6 1290.0,980.9 1293.0,985.9 C1296.0,990.8 1299.1,995.3 1302.1,999.7 C1305.1,1004.2 1309.7,1010.4 1311.2,1012.5" stroke="#ff0000" stroke-width="4.5" fill="none" stroke-linejoin="round" stroke-linecap="butt"/>
</svg>
</body></html>
